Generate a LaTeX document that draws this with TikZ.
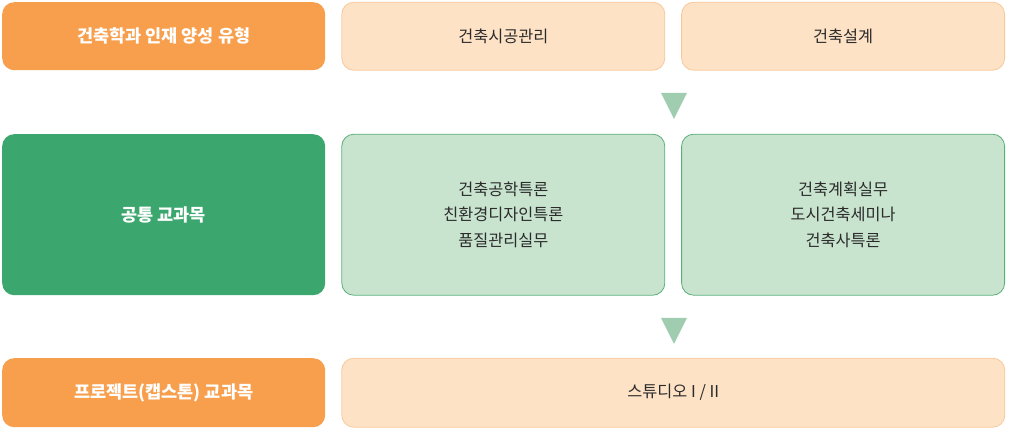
\documentclass[tikz,border=0pt]{standalone}
\usepackage{fontspec}
\setmainfont{Noto Sans CJK KR}
\usetikzlibrary{shapes.geometric, positioning}
\definecolor{headorange}{HTML}{F79F4D}
\definecolor{lightorange}{HTML}{FDE2C6}
\definecolor{lineorange}{HTML}{F9C89A}
\definecolor{headgreen}{HTML}{3BA66E}
\definecolor{lightgreen}{HTML}{C8E3CE}
\definecolor{linegreen}{HTML}{5BAF7A}
\definecolor{arrowgreen}{HTML}{A0CDB0}
\definecolor{textgray}{HTML}{2B2B2B}
\tikzstyle{header} = [rectangle, rounded corners=12pt, minimum width=323pt, minimum height=68pt, inner sep=0pt, fill=headorange, text=white, font=\bfseries\fontsize{17.5}{20}\selectfont]
\tikzstyle{course} = [rectangle, rounded corners=12pt, minimum width=323pt, minimum height=68pt, inner sep=0pt, fill=lightorange, draw=lineorange, line width=0.8pt, text=textgray, font=\fontsize{16.3}{25.5}\selectfont, align=center]
\tikzstyle{downtri} = [isosceles triangle, isosceles triangle stretches, shape border rotate=-90, minimum width=26pt, minimum height=26pt, inner sep=0pt, fill=arrowgreen]

\begin{document}
\begin{tikzpicture}[x=1pt, y=1pt, node distance=16pt]
      \useasboundingbox (0,0) rectangle (1009,-430);
      % row 1
      \node (typehead) [header, anchor=north west] at (2,-2) {건축학과 인재 양성 유형};
      \node (construct) [course, right=of typehead] {건축시공관리};
      \node (design) [course, right=of construct] {건축설계};
      % row 2
      \node (commonhead) [header, fill=headgreen, minimum height=161pt, anchor=north west] at (2,-134) {공통 교과목};
      \node (commonleft) [course, fill=lightgreen, draw=linegreen, minimum height=161pt, right=of commonhead] {건축공학특론\\친환경디자인특론\\품질관리실무};
      \node (commonright) [course, fill=lightgreen, draw=linegreen, minimum height=161pt, right=of commonleft] {건축계획실무\\도시건축세미나\\건축사특론};
      % row 3
      \node (projhead) [header, minimum height=69pt, anchor=north west] at (2,-358) {프로젝트(캡스톤) 교과목};
      \node (studio) [course, minimum width=663pt, minimum height=69pt, right=of projhead] {스튜디오 I / II};
      % arrows
      \node (arrowone) [downtri] at (674,-101) {};
      \node (arrowtwo) [downtri] at (674,-326) {};
\end{tikzpicture}
\end{document}
